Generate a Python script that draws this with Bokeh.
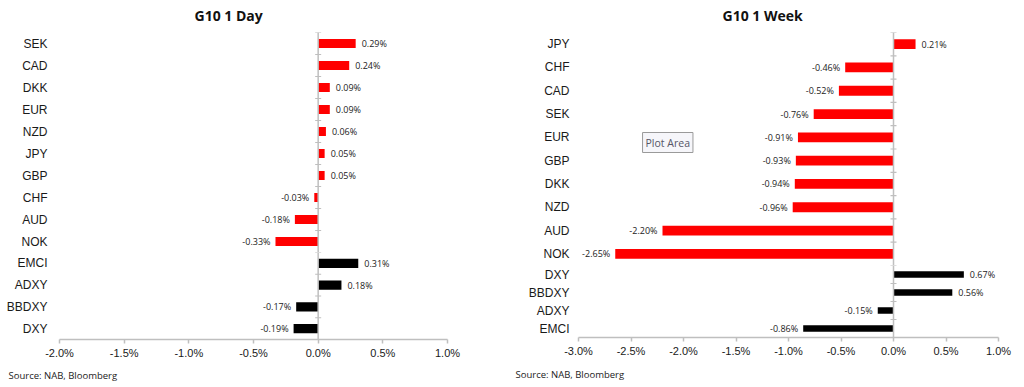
from bokeh.plotting import figure
from bokeh.layouts import row, column
from bokeh.models import (ColumnDataSource, FactorRange, Range1d, Span, Title, Label,
                          SingleIntervalTicker, CustomJSTickFormatter)
from bokeh.core.properties import value
from bokeh.embed import file_html
from bokeh.resources import INLINE

# ---------------- data ----------------
day_g10_ccy = ["SEK", "CAD", "DKK", "EUR", "NZD", "JPY", "GBP", "CHF", "AUD", "NOK"]
day_g10_chg = [0.29, 0.24, 0.09, 0.09, 0.06, 0.05, 0.05, -0.03, -0.18, -0.33]
day_em_idx = ["EMCI", "ADXY", "BBDXY", "DXY"]
day_em_chg = [0.31, 0.18, -0.17, -0.19]

week_g10_ccy = ["JPY", "CHF", "CAD", "SEK", "EUR", "GBP", "DKK", "NZD", "AUD", "NOK"]
week_g10_chg = [0.21, -0.46, -0.52, -0.76, -0.91, -0.93, -0.94, -0.96, -2.20, -2.65]
week_em_idx = ["DXY", "BBDXY", "ADXY", "EMCI"]
week_em_chg = [0.67, 0.56, -0.15, -0.86]

day_title = "G10 1 Day"
week_title = "G10 1 Week"
source_text = "Source: NAB, Bloomberg"

RED = "#ff0000"
BLACK = "#000000"
AXIS_GRAY = "#bfbfbf"
LABEL_FONT = "Liberation Sans"
SMALL_FONT = "Open Sans"


def panel_part(cats, vals, color, x_range, width, height, frame_left, frame_right,
               top, bottom, with_xaxis, ylab_standoff, bar_h=0.42, title=None,
               title_offset=0, src_offset=0, xlab_standoff=3, src_standoff=12):
    p = figure(width=width, height=height, x_range=x_range,
               y_range=FactorRange(factors=list(reversed(cats))),
               output_backend="svg", toolbar_location=None,
               x_axis_location="below" if with_xaxis else None,
               min_border_left=frame_left, min_border_right=frame_right,
               min_border_top=top, min_border_bottom=bottom)
    p.outline_line_color = None
    p.grid.visible = False
    p.background_fill_color = "white"
    p.border_fill_color = "white"

    # category axis (labels only)
    ya = p.yaxis[0]
    ya.axis_line_color = None
    ya.major_tick_line_color = None
    ya.minor_tick_line_color = None
    ya.major_tick_out = 0
    ya.major_tick_in = 0
    ya.major_label_standoff = ylab_standoff
    ya.major_label_text_font = LABEL_FONT
    ya.major_label_text_font_size = "12px"
    ya.major_label_text_color = "#1a1a1a"

    if with_xaxis:
        xa = p.xaxis[0]
        xa.ticker = SingleIntervalTicker(interval=0.5)
        xa.formatter = CustomJSTickFormatter(code="return tick.toFixed(1) + '%';")
        xa.axis_line_color = AXIS_GRAY
        xa.axis_line_width = 1.5
        xa.major_tick_line_color = AXIS_GRAY
        xa.major_tick_line_width = 1.5
        xa.major_tick_out = 4
        xa.major_tick_in = 0
        xa.minor_tick_line_color = None
        xa.major_label_standoff = xlab_standoff
        xa.major_label_text_font = LABEL_FONT
        xa.major_label_text_font_size = "11px"
        xa.major_label_text_color = "#1a1a1a"
        src = Title(text=source_text, align="left", offset=src_offset,
                    text_font=SMALL_FONT, text_font_size="9.5px",
                    text_font_style="normal", text_color="#222222",
                    standoff=src_standoff)
        p.add_layout(src, "below")

    if title is not None:
        p.title.text = title
        p.title.align = "left"
        p.title.offset = title_offset
        p.title.vertical_align = "top"
        p.title.text_font = SMALL_FONT
        p.title.text_font_size = "14px"
        p.title.text_font_style = "bold"
        p.title.text_color = "#111111"
        p.title.standoff = 11

    # bars
    src_bars = ColumnDataSource(dict(cat=cats, val=vals))
    p.hbar(y="cat", right="val", left=0, height=bar_h, source=src_bars,
           fill_color=color, line_color=None)

    # zero line with row-boundary ticks
    p.add_layout(Span(location=0, dimension="height", line_color=AXIS_GRAY, line_width=1.5))
    bounds = [(c, -0.5) for c in cats] + [(cats[0], 0.5)]
    p.scatter(x=[0] * len(bounds), y=bounds, marker="dash", size=6,
              line_color=AXIS_GRAY, line_width=1.2)

    # value labels
    pos = [(c, v) for c, v in zip(cats, vals) if v >= 0]
    neg = [(c, v) for c, v in zip(cats, vals) if v < 0]
    for subset, align, off in ((pos, "left", 6), (neg, "right", -5)):
        if not subset:
            continue
        ds = ColumnDataSource(dict(cat=[c for c, _ in subset], val=[v for _, v in subset],
                                   lab=[f"{v:.2f}%" for _, v in subset]))
        p.text(x="val", y="cat", text="lab", source=ds, text_align=align,
               text_baseline="middle", x_offset=off, text_font=value(SMALL_FONT),
               text_font_size="9px", text_color="#222222")
    return p


# ---------- left panel (1 Day) ----------
xr_day = Range1d(-2.0, 1.0)
L1 = panel_part(day_g10_ccy, day_g10_chg, RED, xr_day, width=508, height=252,
                frame_left=59, frame_right=61, top=31, bottom=0, with_xaxis=False,
                ylab_standoff=12, title=day_title, title_offset=135)
L2 = panel_part(day_em_idx, day_em_chg, BLACK, xr_day, width=508, height=135,
                frame_left=59, frame_right=61, top=0, bottom=47, with_xaxis=True,
                ylab_standoff=12, src_offset=-51, xlab_standoff=3, src_standoff=11)

# ---------- right panel (1 Week) ----------
xr_week = Range1d(-3.0, 1.0)
R1 = panel_part(week_g10_ccy, week_g10_chg, RED, xr_week, width=516, height=265,
                frame_left=70, frame_right=26, top=31, bottom=0, with_xaxis=False,
                ylab_standoff=9, title=week_title, title_offset=144)
R2 = panel_part(week_em_idx, week_em_chg, BLACK, xr_week, width=516, height=122,
                frame_left=70, frame_right=26, top=0, bottom=49, with_xaxis=True,
                ylab_standoff=9, bar_h=0.37, src_offset=-63, xlab_standoff=3,
                src_standoff=13)

# Excel hover tooltip captured in the screenshot
R1.add_layout(Label(x=-2.39, y=113, x_units="data", y_units="screen", text="Plot Area",
                    text_font=SMALL_FONT, text_font_size="10.5px", text_color="#555566",
                    background_fill_color="#f6f6fa", border_line_color="#9a9a9a",
                    padding=3))

layout = row(column(L1, L2), column(R1, R2))
open("out.html", "w").write(file_html(layout, INLINE))
